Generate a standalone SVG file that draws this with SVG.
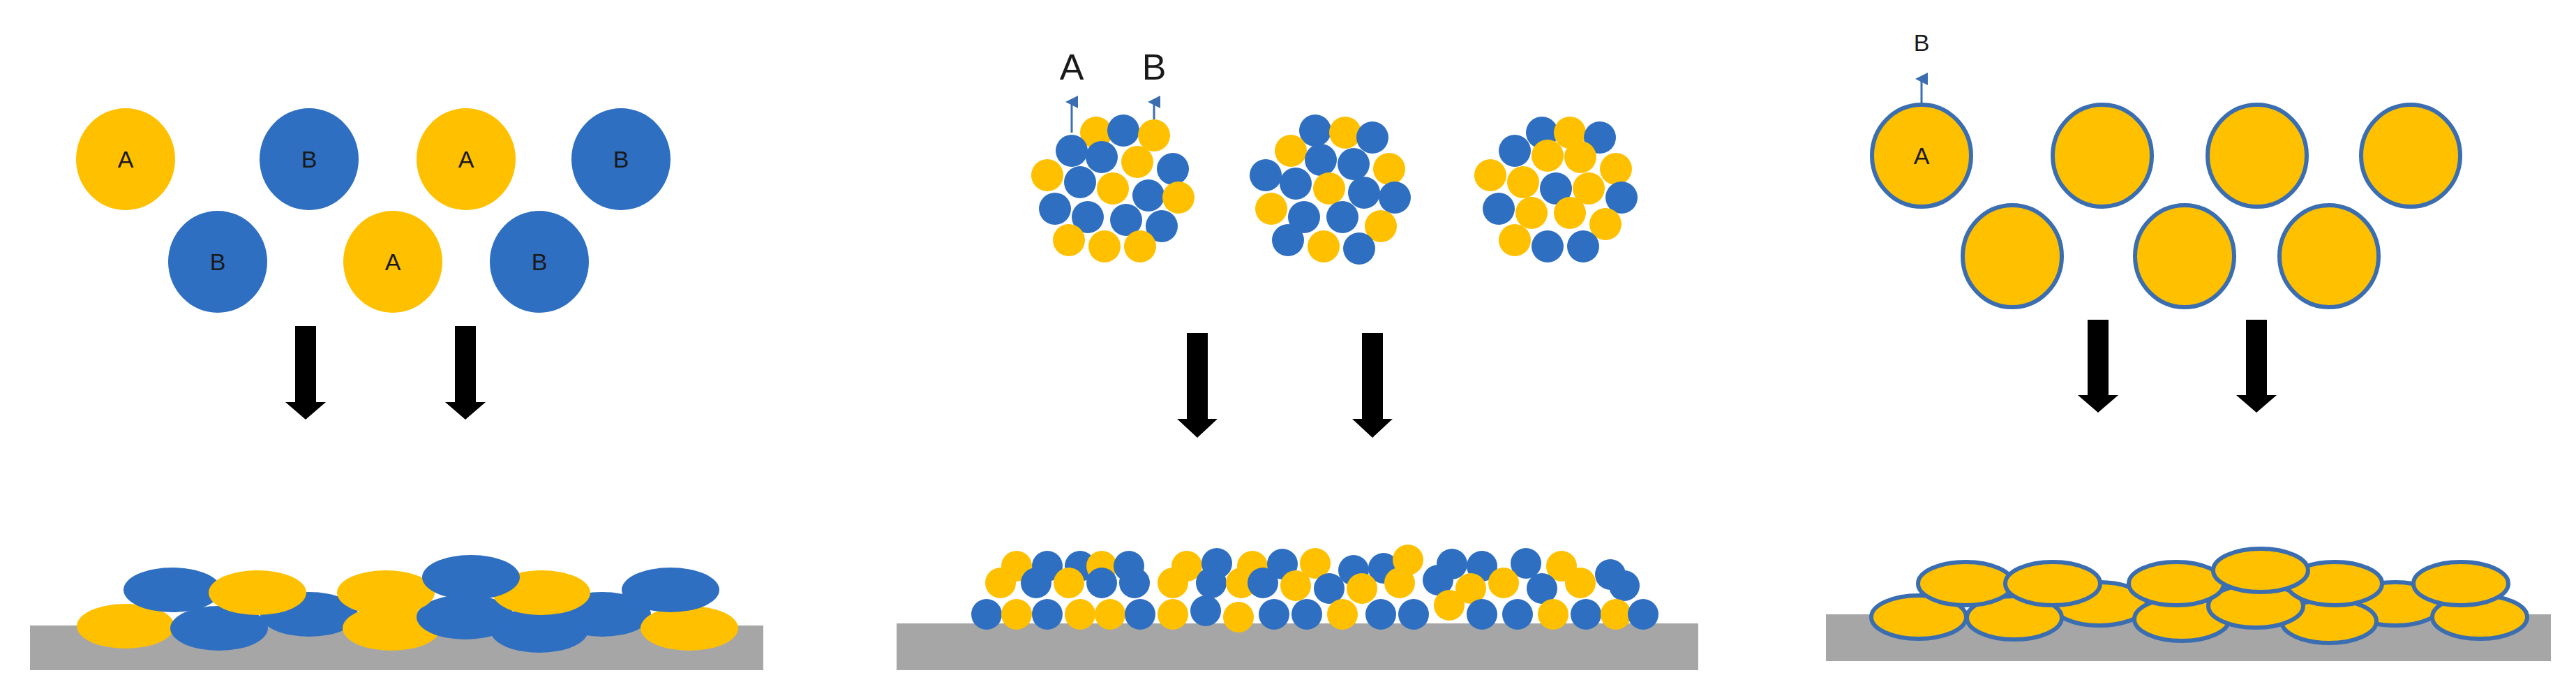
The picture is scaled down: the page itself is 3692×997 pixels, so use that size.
<svg xmlns="http://www.w3.org/2000/svg" width="3692" height="997" viewBox="0 0 3692 997">
<style>
.y{fill:#FFC000}.b{fill:#2E6FC2}
.yo{fill:#FFC000;stroke:#3A6EB0;stroke-width:6}
.sub{fill:#A6A6A6}
.arr{fill:#000}
.lbl{font-family:"Liberation Sans",Arial,sans-serif;font-size:34px;fill:#1a1a1a;text-anchor:middle;dominant-baseline:central}
.big{font-family:"Liberation Sans",Arial,sans-serif;font-size:52px;fill:#1a1a1a;text-anchor:middle}
.thin{stroke:#3A6EB0;stroke-width:3}
</style>
<defs>
<marker id="m" markerWidth="6" markerHeight="6" refX="3" refY="3" orient="auto"><path d="M0,6 L3,0 L6,6Z" fill="#3A6EB0"/></marker>
</defs>
<rect width="3692" height="997" fill="#fff"/>
<g id="panel1">
<g id="p1-particles">
<ellipse class="y" cx="180" cy="228" rx="71" ry="73"/><text class="lbl" x="180" y="228">A</text>
<ellipse class="b" cx="443" cy="228" rx="71" ry="73"/><text class="lbl" x="443" y="228">B</text>
<ellipse class="y" cx="668" cy="228" rx="71" ry="73"/><text class="lbl" x="668" y="228">A</text>
<ellipse class="b" cx="890" cy="228" rx="71" ry="73"/><text class="lbl" x="890" y="228">B</text>
<ellipse class="b" cx="312" cy="375" rx="71" ry="73"/><text class="lbl" x="312" y="375">B</text>
<ellipse class="y" cx="563" cy="375" rx="71" ry="73"/><text class="lbl" x="563" y="375">A</text>
<ellipse class="b" cx="773" cy="375" rx="71" ry="73"/><text class="lbl" x="773" y="375">B</text>
</g>
<rect class="sub" x="43" y="896" width="1051" height="64"/>
<g id="p1-film">
<ellipse class="b" cx="443" cy="880" rx="70" ry="32"/>
<ellipse class="b" cx="863" cy="880" rx="70" ry="32"/>
<ellipse class="y" cx="180" cy="897" rx="70" ry="32"/>
<ellipse class="b" cx="314" cy="900" rx="70" ry="32"/>
<ellipse class="y" cx="561" cy="900" rx="70" ry="32"/>
<ellipse class="b" cx="773" cy="903" rx="70" ry="32"/>
<ellipse class="y" cx="988" cy="900" rx="70" ry="32"/>
<ellipse class="b" cx="667" cy="884" rx="70" ry="32"/>
<ellipse class="b" cx="247" cy="845" rx="70" ry="32"/>
<ellipse class="y" cx="369" cy="849" rx="70" ry="32"/>
<ellipse class="y" cx="553" cy="849" rx="70" ry="32"/>
<ellipse class="y" cx="776" cy="849" rx="70" ry="32"/>
<ellipse class="b" cx="961" cy="845" rx="70" ry="32"/>
<ellipse class="b" cx="675" cy="827" rx="70" ry="32"/>
</g>
</g>
<g id="panel2">
<g id="p2-labels">
<text class="big" x="1536" y="114">A</text>
<text class="big" x="1654" y="114">B</text>
<line class="thin" x1="1536" y1="190" x2="1536" y2="146" marker-end="url(#m)"/>
<line class="thin" x1="1654" y1="190" x2="1654" y2="146" marker-end="url(#m)"/>
</g>
<g id="p2-clusters">
<circle class="y" cx="1571" cy="190" r="23"/><circle class="b" cx="1610" cy="187" r="23"/><circle class="y" cx="1654" cy="194" r="23"/>
<circle class="b" cx="1536" cy="216" r="23"/><circle class="b" cx="1579" cy="225" r="23"/><circle class="y" cx="1630" cy="232" r="23"/>
<circle class="b" cx="1681" cy="242" r="23"/><circle class="y" cx="1501" cy="251" r="23"/><circle class="b" cx="1548" cy="261" r="23"/>
<circle class="y" cx="1595" cy="270" r="23"/><circle class="b" cx="1646" cy="280" r="23"/><circle class="y" cx="1689" cy="283" r="23"/>
<circle class="b" cx="1512" cy="299" r="23"/><circle class="b" cx="1559" cy="311" r="23"/><circle class="b" cx="1614" cy="315" r="23"/>
<circle class="b" cx="1665" cy="324" r="23"/><circle class="y" cx="1532" cy="344" r="23"/><circle class="y" cx="1583" cy="353" r="23"/><circle class="y" cx="1634" cy="353" r="23"/>

<circle class="b" cx="1885" cy="187" r="23"/><circle class="y" cx="1928" cy="190" r="23"/><circle class="b" cx="1967" cy="197" r="23"/>
<circle class="y" cx="1850" cy="216" r="23"/><circle class="b" cx="1893" cy="229" r="23"/><circle class="b" cx="1940" cy="235" r="23"/>
<circle class="y" cx="1991" cy="242" r="23"/><circle class="b" cx="1814" cy="251" r="23"/><circle class="b" cx="1857" cy="263" r="23"/>
<circle class="y" cx="1905" cy="270" r="23"/><circle class="b" cx="1955" cy="276" r="23"/><circle class="b" cx="1999" cy="283" r="23"/>
<circle class="y" cx="1822" cy="299" r="23"/><circle class="b" cx="1869" cy="311" r="23"/><circle class="b" cx="1924" cy="311" r="23"/>
<circle class="y" cx="1979" cy="324" r="23"/><circle class="b" cx="1846" cy="344" r="23"/><circle class="y" cx="1897" cy="353" r="23"/><circle class="b" cx="1948" cy="356" r="23"/>

<circle class="b" cx="2210" cy="190" r="23"/><circle class="y" cx="2250" cy="190" r="23"/><circle class="b" cx="2293" cy="197" r="23"/>
<circle class="b" cx="2171" cy="216" r="23"/><circle class="y" cx="2218" cy="223" r="23"/><circle class="y" cx="2265" cy="225" r="23"/>
<circle class="y" cx="2316" cy="242" r="23"/><circle class="y" cx="2136" cy="251" r="23"/><circle class="y" cx="2183" cy="261" r="23"/>
<circle class="b" cx="2230" cy="270" r="23"/><circle class="y" cx="2277" cy="270" r="23"/><circle class="b" cx="2324" cy="283" r="23"/>
<circle class="b" cx="2148" cy="299" r="23"/><circle class="y" cx="2195" cy="305" r="23"/><circle class="y" cx="2250" cy="305" r="23"/>
<circle class="y" cx="2301" cy="321" r="23"/><circle class="y" cx="2171" cy="344" r="23"/><circle class="b" cx="2218" cy="353" r="23"/><circle class="b" cx="2269" cy="353" r="23"/>
</g>
<rect class="sub" x="1285" y="893" width="1149" height="67"/>
<g id="p2-film">
<circle class="y" cx="1457" cy="811" r="22"/><circle class="b" cx="1501" cy="811" r="22"/><circle class="b" cx="1548" cy="811" r="22"/><circle class="y" cx="1579" cy="811" r="22"/><circle class="b" cx="1618" cy="811" r="22"/><circle class="y" cx="1701" cy="811" r="22"/><circle class="b" cx="1744" cy="807" r="22"/><circle class="y" cx="1795" cy="811" r="22"/><circle class="b" cx="1838" cy="808" r="22"/><circle class="y" cx="1885" cy="807" r="22"/><circle class="b" cx="1940" cy="817" r="22"/><circle class="b" cx="1983" cy="814" r="22"/><circle class="y" cx="2018" cy="802" r="22"/><circle class="b" cx="2081" cy="808" r="22"/><circle class="b" cx="2124" cy="811" r="22"/><circle class="b" cx="2187" cy="807" r="22"/><circle class="y" cx="2238" cy="811" r="22"/><circle class="b" cx="2308" cy="823" r="22"/>
<circle class="y" cx="1434" cy="835" r="22"/><circle class="b" cx="1485" cy="835" r="22"/><circle class="y" cx="1532" cy="835" r="22"/><circle class="b" cx="1579" cy="835" r="22"/><circle class="b" cx="1626" cy="835" r="22"/><circle class="y" cx="1681" cy="835" r="22"/><circle class="b" cx="1736" cy="835" r="22"/><circle class="y" cx="1779" cy="835" r="22"/><circle class="b" cx="1810" cy="835" r="22"/><circle class="y" cx="1857" cy="839" r="22"/><circle class="b" cx="1905" cy="843" r="22"/><circle class="y" cx="1952" cy="843" r="22"/><circle class="y" cx="2006" cy="835" r="22"/><circle class="b" cx="2061" cy="831" r="22"/><circle class="y" cx="2108" cy="843" r="22"/><circle class="y" cx="2155" cy="835" r="22"/><circle class="b" cx="2210" cy="843" r="22"/><circle class="y" cx="2265" cy="835" r="22"/><circle class="b" cx="2328" cy="839" r="22"/>
<circle class="b" cx="1414" cy="880" r="22"/><circle class="y" cx="1457" cy="880" r="22"/><circle class="b" cx="1501" cy="880" r="22"/><circle class="y" cx="1548" cy="880" r="22"/><circle class="y" cx="1591" cy="880" r="22"/><circle class="b" cx="1634" cy="880" r="22"/><circle class="y" cx="1681" cy="880" r="22"/><circle class="b" cx="1728" cy="875" r="22"/><circle class="y" cx="1775" cy="884" r="22"/><circle class="b" cx="1826" cy="880" r="22"/><circle class="b" cx="1873" cy="880" r="22"/><circle class="y" cx="1924" cy="880" r="22"/><circle class="b" cx="1979" cy="880" r="22"/><circle class="b" cx="2026" cy="880" r="22"/><circle class="y" cx="2077" cy="867" r="22"/><circle class="b" cx="2124" cy="880" r="22"/><circle class="b" cx="2175" cy="880" r="22"/><circle class="y" cx="2226" cy="880" r="22"/><circle class="b" cx="2273" cy="880" r="22"/><circle class="y" cx="2316" cy="880" r="22"/><circle class="b" cx="2355" cy="880" r="22"/>
</g>
</g>
<g id="panel3">
<g id="p3-label">
<text class="lbl" x="2754" y="61">B</text>
<line class="thin" x1="2754" y1="150" x2="2754" y2="113" marker-end="url(#m)"/>
</g>
<g id="p3-particles">
<ellipse class="yo" cx="2754" cy="223" rx="71" ry="73"/><text class="lbl" x="2754" y="223">A</text>
<ellipse class="yo" cx="3013" cy="223" rx="71" ry="73"/>
<ellipse class="yo" cx="3235" cy="223" rx="71" ry="73"/>
<ellipse class="yo" cx="3455" cy="223" rx="71" ry="73"/>
<ellipse class="yo" cx="2884" cy="367" rx="71" ry="73"/>
<ellipse class="yo" cx="3131" cy="367" rx="71" ry="73"/>
<ellipse class="yo" cx="3338" cy="367" rx="71" ry="73"/>
</g>
<rect class="sub" x="2617" y="880" width="1039" height="67"/>
<g id="p3-film">
<ellipse class="yo" cx="3009" cy="865" rx="68" ry="31"/>
<ellipse class="yo" cx="3433" cy="865" rx="68" ry="31"/>
<ellipse class="yo" cx="2750" cy="884" rx="68" ry="31"/>
<ellipse class="yo" cx="2887" cy="885" rx="68" ry="31"/>
<ellipse class="yo" cx="3127" cy="887" rx="68" ry="31"/>
<ellipse class="yo" cx="3338" cy="890" rx="68" ry="31"/>
<ellipse class="yo" cx="3233" cy="868" rx="68" ry="31"/>
<ellipse class="yo" cx="3554" cy="884" rx="68" ry="31"/>
<ellipse class="yo" cx="2817" cy="836" rx="68" ry="31"/>
<ellipse class="yo" cx="2942" cy="836" rx="68" ry="31"/>
<ellipse class="yo" cx="3119" cy="836" rx="68" ry="31"/>
<ellipse class="yo" cx="3346" cy="836" rx="68" ry="31"/>
<ellipse class="yo" cx="3527" cy="836" rx="68" ry="31"/>
<ellipse class="yo" cx="3240" cy="817" rx="68" ry="31"/>
</g>
</g>
<g id="connectors">
<path class="arr" d="M423,467 h30 v109 h14 l-29,25 l-29,-25 h14z"/>
<path class="arr" d="M652,467 h30 v109 h14 l-29,25 l-29,-25 h14z"/>
<path class="arr" d="M1701,477 h30 v123 h14 l-29,27 l-29,-27 h14z"/>
<path class="arr" d="M1952,477 h30 v123 h14 l-29,27 l-29,-27 h14z"/>
<path class="arr" d="M2992,458 h30 v108 h14 l-29,25 l-29,-25 h14z"/>
<path class="arr" d="M3219,458 h30 v108 h14 l-29,25 l-29,-25 h14z"/>
</g>
</svg>
